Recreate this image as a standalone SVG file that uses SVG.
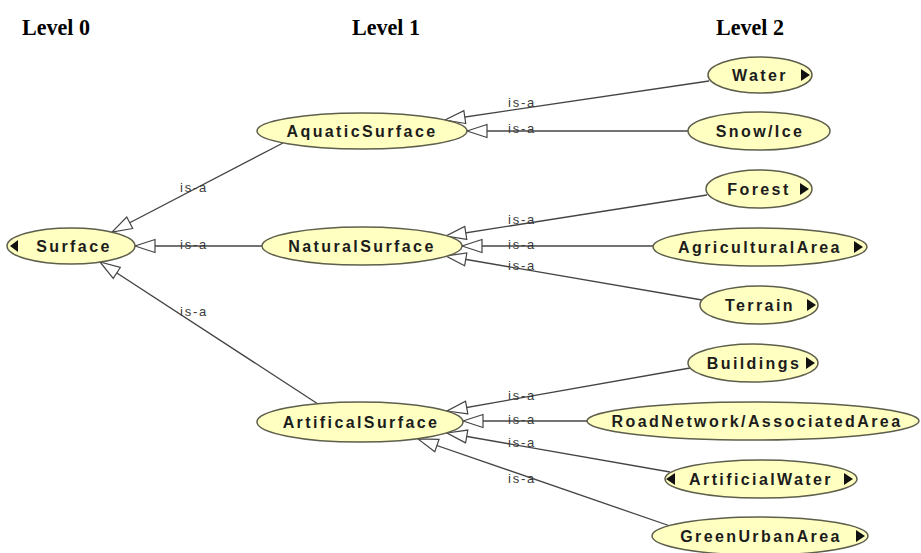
<svg xmlns="http://www.w3.org/2000/svg" width="921" height="553" viewBox="0 0 921 553">
  <style>
    .hdr { font-family: "Liberation Serif", "Times New Roman", serif; font-weight: bold; font-size: 24px; fill: #000; }
    .node ellipse { fill: #ffffc2; stroke: #5e5e4c; stroke-width: 1.5; }
    .node text { font-family: "Liberation Sans", Arial, sans-serif; font-weight: bold; font-size: 16px; letter-spacing: 2.4px; fill: #1c1c1c; text-anchor: middle; }
    .tri { fill: #111; }
    .edge { stroke: #444; stroke-width: 1.3; fill: none; marker-end: url(#isa); }
    .lbl { font-family: "Liberation Sans", Arial, sans-serif; font-size: 13px; letter-spacing: 1.8px; fill: #3a3a3a; }
  </style>
  <defs>
    <marker id="isa" markerUnits="userSpaceOnUse" markerWidth="22" markerHeight="16" viewBox="0 0 22 16" refX="21" refY="8" orient="auto">
      <path d="M1,1.5 L21,8 L1,14.5 Z" fill="#fff" stroke="#444" stroke-width="1.2"/>
    </marker>
  </defs>
  <rect width="921" height="553" fill="#fff"/>

  <!-- level headings (slightly condensed) -->
  <text class="hdr" transform="translate(22 35) scale(0.92 1)">Level 0</text>
  <text class="hdr" transform="translate(352 35) scale(0.92 1)">Level 1</text>
  <text class="hdr" transform="translate(716 35) scale(0.92 1)">Level 2</text>

  <!-- is-a edges: child -> parent -->
  <g id="connectors">
    <line class="edge" x1="709" y1="81" x2="445" y2="120"/>
    <line class="edge" x1="688" y1="131" x2="467" y2="131"/>
    <line class="edge" x1="707" y1="195" x2="446" y2="236"/>
    <line class="edge" x1="653" y1="246" x2="462" y2="246"/>
    <line class="edge" x1="702" y1="300" x2="446" y2="256"/>
    <line class="edge" x1="690" y1="368" x2="447" y2="411"/>
    <line class="edge" x1="587" y1="421" x2="463" y2="421"/>
    <line class="edge" x1="670" y1="472" x2="447" y2="433"/>
    <line class="edge" x1="673" y1="527" x2="418" y2="439"/>
    <line class="edge" x1="283" y1="143" x2="112" y2="232"/>
    <line class="edge" x1="262" y1="246" x2="135" y2="246"/>
    <line class="edge" x1="318" y1="404" x2="100" y2="262"/>
    <text class="lbl" x="508" y="107">is-a</text>
    <text class="lbl" x="508" y="133">is-a</text>
    <text class="lbl" x="508" y="224">is-a</text>
    <text class="lbl" x="508" y="249">is-a</text>
    <text class="lbl" x="508" y="270">is-a</text>
    <text class="lbl" x="508" y="400">is-a</text>
    <text class="lbl" x="508" y="424">is-a</text>
    <text class="lbl" x="508" y="447">is-a</text>
    <text class="lbl" x="508" y="483">is-a</text>
    <text class="lbl" x="180" y="192">is-a</text>
    <text class="lbl" x="180" y="249">is-a</text>
    <text class="lbl" x="180" y="316">is-a</text>
  </g>

  <!-- level 0 -->
  <g id="surface" class="node">
    <ellipse cx="71" cy="246" rx="64" ry="18"/>
    <polygon class="tri" points="10,246 18,240 18,252"/>
    <text x="74" y="252">Surface</text>
  </g>

  <!-- level 1 -->
  <g id="aquatic-surface" class="node">
    <ellipse cx="362" cy="131" rx="105" ry="18"/>
    <text x="362" y="137">AquaticSurface</text>
  </g>
  <g id="natural-surface" class="node">
    <ellipse cx="362" cy="246" rx="100" ry="19"/>
    <text x="362" y="252">NaturalSurface</text>
  </g>
  <g id="artifical-surface" class="node">
    <ellipse cx="360" cy="422" rx="103" ry="20"/>
    <text x="361" y="428">ArtificalSurface</text>
  </g>

  <!-- level 2 -->
  <g id="water" class="node">
    <ellipse cx="760" cy="75" rx="52" ry="18"/>
    <polygon class="tri" points="801,69 801,81 810,75"/>
    <text x="760" y="81">Water</text>
  </g>
  <g id="snow-ice" class="node">
    <ellipse cx="759" cy="131" rx="71" ry="19"/>
    <text x="760" y="137">Snow/Ice</text>
  </g>
  <g id="forest" class="node">
    <ellipse cx="759" cy="189" rx="53" ry="19"/>
    <polygon class="tri" points="800,183 800,195 809,189"/>
    <text x="759" y="195">Forest</text>
  </g>
  <g id="agricultural-area" class="node">
    <ellipse cx="760" cy="247" rx="107" ry="19"/>
    <polygon class="tri" points="854,241 854,253 863,247"/>
    <text x="760" y="253">AgriculturalArea</text>
  </g>
  <g id="terrain" class="node">
    <ellipse cx="759" cy="305" rx="59" ry="19"/>
    <polygon class="tri" points="807,299 807,311 816,305"/>
    <text x="760" y="311">Terrain</text>
  </g>
  <g id="buildings" class="node">
    <ellipse cx="753" cy="363" rx="65" ry="19"/>
    <polygon class="tri" points="806,357 806,369 815,363"/>
    <text x="754" y="369">Buildings</text>
  </g>
  <g id="road-network" class="node">
    <ellipse cx="753" cy="421" rx="166" ry="19"/>
    <text x="757" y="427">RoadNetwork/AssociatedArea</text>
  </g>
  <g id="artificial-water" class="node">
    <ellipse cx="761" cy="479" rx="96" ry="19"/>
    <polygon class="tri" points="666,479 675,473 675,485"/>
    <polygon class="tri" points="844,473 844,485 853,479"/>
    <text x="761" y="485">ArtificialWater</text>
  </g>
  <g id="green-urban-area" class="node">
    <ellipse cx="760" cy="536" rx="108" ry="19"/>
    <polygon class="tri" points="856,530 856,542 865,536"/>
    <text x="761" y="542">GreenUrbanArea</text>
  </g>
</svg>
